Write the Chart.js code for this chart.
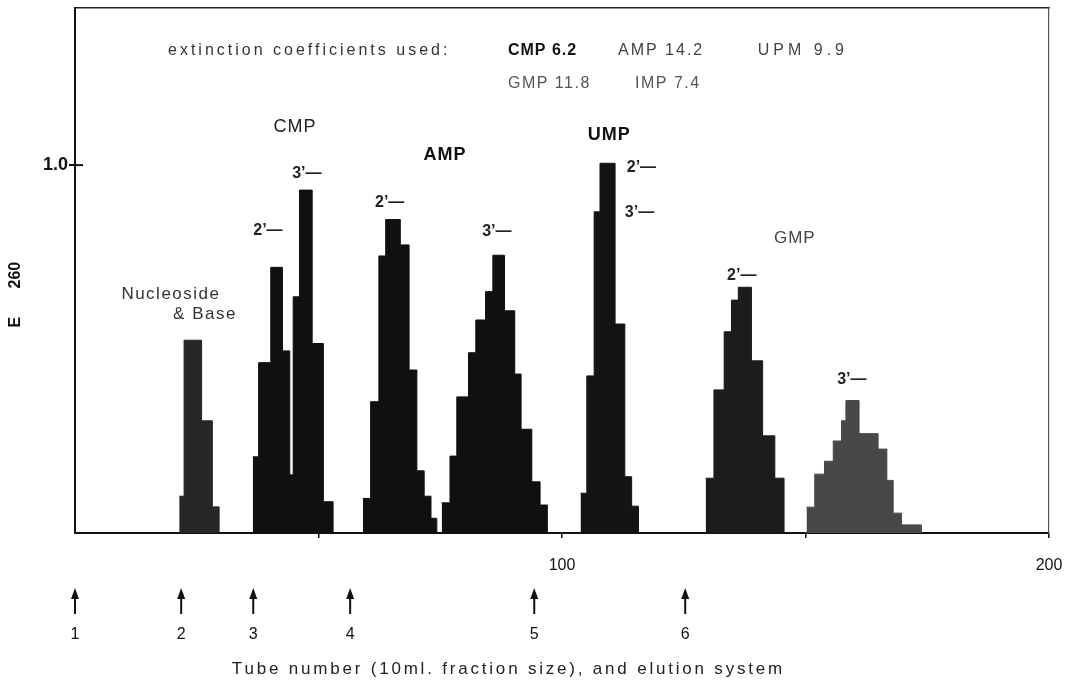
<!DOCTYPE html>
<html>
<head>
<meta charset="utf-8">
<script src="https://cdn.jsdelivr.net/npm/chart.js@4.4.1/dist/chart.umd.min.js"></script>
<style>
html,body{margin:0;padding:0;background:#fff;}
</style>
</head>
<body>
<canvas id="elution" width="1071" height="689"></canvas>
<script>
// each peak: tube number where a step starts, and E260 of that step (last one closes to 0)
const nucleosideTubes=[21.4,22.4,26.0,28.2,29.6];
const nucleosideE=[0.10,0.524,0.305,0.071,0];
const cmpTubes=[36.5,37.7,40.2,42.6,44.1,44.8,46.1,48.7,51.0,53.0];
const cmpE=[0.207,0.463,0.722,0.495,0.158,0.642,0.932,0.515,0.085,0];
const amp2Tubes=[59.1,60.7,62.4,63.8,66.8,68.6,70.2,71.7,73.1,74.3];
const amp2E=[0.094,0.357,0.753,0.852,0.783,0.443,0.169,0.10,0.04,0];
const amp3Tubes=[75.3,77.0,78.4,80.8,82.3,84.3,85.8,88.2,90.3,91.6,93.8,95.5,97.0];
const amp3E=[0.082,0.209,0.370,0.490,0.579,0.656,0.755,0.604,0.432,0.282,0.139,0.076,0];
const umpTubes=[103.8,105.1,106.6,107.8,110.9,112.9,114.3,115.7];
const umpE=[0.108,0.427,0.873,1.005,0.568,0.153,0.073,0];
const gmp2Tubes=[129.5,131.2,133.3,134.8,136.2,138.9,141.2,143.7,145.6];
const gmp2E=[0.149,0.389,0.547,0.633,0.668,0.468,0.264,0.149,0];
const gmp3Tubes=[150.2,151.9,153.9,155.7,157.4,158.3,161.0,164.9,166.7,168.0,169.7,173.8];
const gmp3E=[0.07,0.16,0.195,0.25,0.305,0.36,0.27,0.228,0.143,0.054,0.022,0];

const xTicks=[50,100,150,200];
const xTickLabels=['','100','','200'];
const yTicks=[1];
const yTickLabels=['1.0'];

// elution system changes
const systemTubes=[0,21.8,36.6,56.5,94.3,125.3];
const systemLabels=['1','2','3','4','5','6'];

// text written on the plot: text, tube, E260
const noteTexts=['extinction coefficients used:','CMP 6.2','AMP 14.2','UPM 9.9','GMP 11.8','IMP 7.4',
  'CMP','AMP','UMP','GMP','Nucleoside','& Base',
  '2’—','3’—','2’—','3’—','2’—','3’—','2’—','3’—'];
const noteTubes=[19.1,88.9,111.5,140.2,88.9,115.0,
  45.2,76.0,109.7,147.8,19.7,26.7,
  36.6,44.6,61.6,83.6,113.3,112.9,133.9,156.5];
const noteE=[1.3125,1.3125,1.3125,1.3125,1.2228,1.2228,
  1.103,1.027,1.082,0.802,0.649,0.595,
  0.823,0.978,0.897,0.818,0.992,0.870,0.701,0.416];

const SANS="'Liberation Sans', Arial, sans-serif";
const NARROW="'Liberation Sans Narrow', 'Liberation Sans', Arial, sans-serif";

// style per note: [font, colour, align, letterSpacing]
const noteStyle=i=>{
  if(i===0) return ['16px '+SANS,'#333','left','3px'];
  if(i===1) return ['bold 16px '+SANS,'#111','left','1px'];
  if(i===3) return ['16px '+SANS,'#444','left','4px'];
  if(i<=3) return ['16px '+SANS,'#444','left','2px'];
  if(i<=5) return ['16px '+SANS,'#555','left','1.5px'];
  if(i===6) return ['18px '+SANS,'#222','center','1px'];
  if(i===7||i===8) return ['bold 18px '+SANS,'#111','center','1px'];
  if(i===9) return ['17px '+SANS,'#444','center','1px'];
  if(i<=11) return ['17px '+SANS,'#333','center','1.5px'];
  return ['bold 16px '+SANS,'#222','left','0px'];
};

const peaks=[
  [nucleosideTubes,nucleosideE,'#262626'],
  [cmpTubes,cmpE,'#101010'],
  [amp2Tubes,amp2E,'#101010'],
  [amp3Tubes,amp3E,'#101010'],
  [umpTubes,umpE,'#141414'],
  [gmp2Tubes,gmp2E,'#1c1c1c'],
  [gmp3Tubes,gmp3E,'#484848']
];

const notesPlugin={
  id:'notes',
  afterDraw(chart){
    const {ctx,scales:{x,y},chartArea}=chart;
    ctx.save();
    ctx.textBaseline='middle';
    noteTexts.forEach((t,i)=>{
      const s=noteStyle(i);
      ctx.font=s[0];ctx.fillStyle=s[1];ctx.textAlign=s[2];
      if('letterSpacing' in ctx) ctx.letterSpacing=s[3];
      ctx.fillText(t,x.getPixelForValue(noteTubes[i]),y.getPixelForValue(noteE[i]));
    });
    if('letterSpacing' in ctx) ctx.letterSpacing='0px';
    // y tick runs a little into the plot
    ctx.strokeStyle='#111';ctx.lineWidth=2;
    yTicks.forEach(v=>{
      const py=y.getPixelForValue(v);
      ctx.beginPath();ctx.moveTo(chartArea.left,py);ctx.lineTo(chartArea.left+8,py);ctx.stroke();
    });
    // elution system arrows under the axis
    const top=chartArea.bottom+55,bot=chartArea.bottom+81;
    ctx.fillStyle='#111';
    ctx.font='16px '+NARROW;ctx.textAlign='center';
    systemTubes.forEach((tb,i)=>{
      const px=x.getPixelForValue(tb);
      ctx.beginPath();ctx.moveTo(px,bot);ctx.lineTo(px,top+6);ctx.stroke();
      ctx.beginPath();ctx.moveTo(px,top);ctx.lineTo(px-4,top+11);ctx.lineTo(px+4,top+11);ctx.closePath();ctx.fill();
      ctx.fillText(systemLabels[i],px,chartArea.bottom+102);
    });
    // axis titles
    ctx.font='17px '+NARROW;
    if('letterSpacing' in ctx) ctx.letterSpacing='2.8px';
    ctx.fillStyle='#222';
    ctx.fillText('Tube number (10ml. fraction size), and elution system',x.getPixelForValue(89),chartArea.bottom+136);
    if('letterSpacing' in ctx) ctx.letterSpacing='0px';
    ctx.font='bold 16px '+SANS;ctx.fillStyle='#111';
    ctx.save();
    ctx.translate(16,y.getPixelForValue(0.573));ctx.rotate(-Math.PI/2);
    ctx.fillText('E',0,0);
    ctx.restore();
    ctx.save();
    ctx.translate(16,y.getPixelForValue(0.701));ctx.rotate(-Math.PI/2);
    ctx.fillText('260',0,0);
    ctx.restore();
    ctx.restore();
  }
};

new Chart(document.getElementById('elution'),{
  type:'line',
  data:{
    datasets:peaks.map(p=>({
      data:p[0].map((t,i)=>({x:t,y:p[1][i]})),
      stepped:'before',
      fill:'origin',
      backgroundColor:p[2],
      borderColor:p[2],
      borderWidth:1,
      pointRadius:0
    }))
  },
  options:{
    responsive:false,
    animation:false,
    layout:{padding:{top:8,left:0,right:0,bottom:0}},
    plugins:{legend:{display:false},tooltip:{enabled:false}},
    scales:{
      x:{
        type:'linear',position:'bottom',min:0,max:200,
        afterBuildTicks:s=>{s.ticks=xTicks.map(v=>({value:v}));},
        afterFit:s=>{s.height=156;s.paddingLeft=0;s.paddingRight=0;},
        ticks:{
          callback:v=>xTickLabels[xTicks.indexOf(v)],
          autoSkip:false,maxRotation:0,padding:18,color:'#111',
          font:{family:NARROW,size:16}
        },
        grid:{drawOnChartArea:false,tickLength:5,color:'#111',lineWidth:1.5},
        border:{color:'#111',width:2}
      },
      xTop:{
        type:'linear',position:'top',min:0,max:200,
        afterFit:s=>{s.height=0;s.paddingLeft=0;s.paddingRight=0;},
        ticks:{display:false},
        grid:{display:false,drawTicks:false},
        border:{color:'#222',width:1.5}
      },
      y:{
        min:0,max:1.427,
        afterBuildTicks:s=>{s.ticks=yTicks.map(v=>({value:v}));},
        afterFit:s=>{s.width=75;s.paddingTop=0;s.paddingBottom=0;},
        ticks:{
          callback:v=>yTickLabels[yTicks.indexOf(v)],
          padding:1,color:'#111',
          font:{family:SANS,size:18,weight:'bold'}
        },
        grid:{drawOnChartArea:false,tickLength:6,color:'#111',lineWidth:2},
        border:{color:'#111',width:2}
      },
      yRight:{
        position:'right',min:0,max:1.427,
        afterFit:s=>{s.width=22;},
        ticks:{display:false},
        grid:{display:false,drawTicks:false},
        border:{color:'#555',width:1.2,dash:[4,2]}
      }
    }
  },
  plugins:[notesPlugin]
});
</script>
</body>
</html>
